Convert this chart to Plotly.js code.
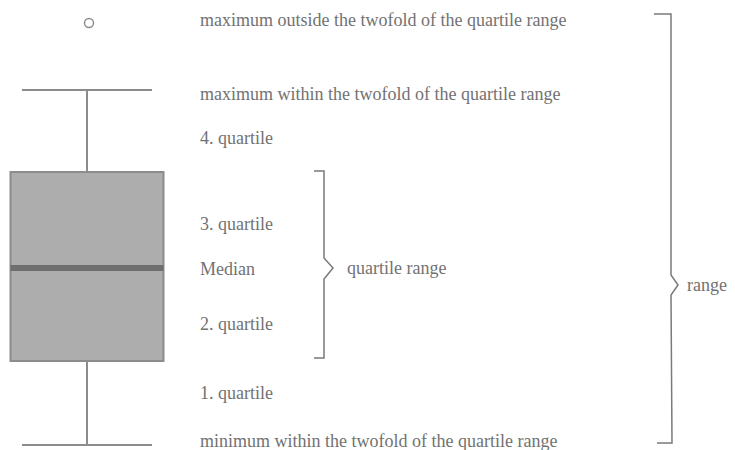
<!DOCTYPE html>
<html>
<head>
<meta charset="utf-8">
<script src="https://cdn.plot.ly/plotly-3.0.1.min.js"></script>
<style>html,body{margin:0;padding:0;background:#fff;}#chart{width:735px;height:450px;}</style>
</head>
<body>
<div id="chart"></div>
<script>
// Box statistics (value units; 0 = bottom of the figure)
var boxQ1 = [89];
var boxMedian = [182];
var boxQ3 = [278];
var boxLowerFence = [5];
var boxUpperFence = [360];
var outliers = [427];

// Explanatory labels
var labelTexts = [
  "maximum outside the twofold of the quartile range",
  "maximum within the twofold of the quartile range",
  "4. quartile",
  "3. quartile",
  "Median",
  "2. quartile",
  "1. quartile",
  "minimum within the twofold of the quartile range"
];
var braceLabels = ["quartile range", "range"];

// ---- layout helpers (positions / styles) ----
var boxX = 87, boxW = 153;
var labelX = 198;
var labelY = [430, 356, 312, 226, 181, 126, 57, 9];
var ink = "#727272";
var lineGray = "#8c8c8c";
var font = {family: "Liberation Serif, Times New Roman, serif", size: 18, color: ink};

var traces = [
  {
    type: "box",
    x: [boxX],
    q1: boxQ1, median: boxMedian, q3: boxQ3,
    lowerfence: boxLowerFence, upperfence: boxUpperFence,
    width: boxW,
    whiskerwidth: 0.85,
    fillcolor: "#adadad",
    line: {color: lineGray, width: 2},
    boxpoints: false,
    hoverinfo: "skip",
    showlegend: false
  },
  {
    type: "scatter", mode: "lines",
    x: [boxX - boxW / 2, boxX + boxW / 2],
    y: [boxMedian[0], boxMedian[0]],
    line: {color: "#6f6f6f", width: 6},
    hoverinfo: "skip", showlegend: false
  },
  {
    type: "scatter", mode: "markers",
    x: outliers.map(function(){ return boxX + 2; }),
    y: outliers,
    marker: {symbol: "circle-open", size: 9, color: lineGray, line: {width: 1.5, color: lineGray}},
    hoverinfo: "skip", showlegend: false
  }
];

var annotations = labelTexts.map(function(t, i) {
  return {x: labelX, y: labelY[i], xref: "x", yref: "y", text: t, showarrow: false,
          xanchor: "left", yanchor: "middle", font: font};
});
annotations.push({x: 345, y: boxMedian[0], xref: "x", yref: "y", text: braceLabels[0], showarrow: false,
                  xanchor: "left", yanchor: "middle", font: font});
annotations.push({x: 685, y: 165, xref: "x", yref: "y", text: braceLabels[1], showarrow: false,
                  xanchor: "left", yanchor: "middle", font: font});

function yv(p) { return 450 - p; }
var bl = {color: "#7a7a7a", width: 1.5};
var shapes = [
  // quartile range brace
  {type: "path", xref: "x", yref: "y", line: bl,
   path: "M 314 " + yv(171) + " L 324 " + yv(171) + " L 324 " + yv(258) + " L 333 " + yv(268) +
         " L 324 " + yv(279) + " L 324 " + yv(358) + " L 314 " + yv(358)},
  // range brace
  {type: "path", xref: "x", yref: "y", line: bl,
   path: "M 654 " + yv(14) + " L 671 " + yv(14) + " L 671 " + yv(275) + " L 678 " + yv(285) +
         " L 671 " + yv(295) + " L 672 " + yv(443) + " L 657 " + yv(443)}
];

var layout = {
  width: 735, height: 450,
  margin: {l: 0, r: 0, t: 0, b: 0},
  paper_bgcolor: "#fff", plot_bgcolor: "#fff",
  xaxis: {range: [0, 735], visible: false, fixedrange: true},
  yaxis: {range: [0, 450], visible: false, fixedrange: true},
  annotations: annotations,
  shapes: shapes,
  showlegend: false
};

Plotly.newPlot("chart", traces, layout, {staticPlot: true});
</script>
</body>
</html>
